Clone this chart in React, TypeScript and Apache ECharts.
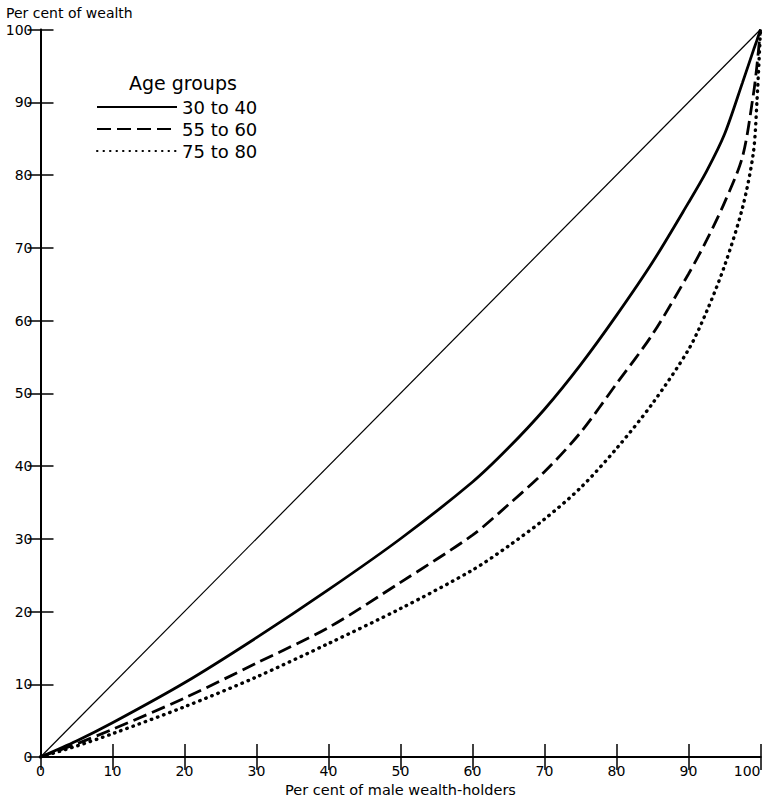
import React, { useEffect, useRef } from "react";
import * as echarts from "echarts";

// Percentage of male wealth-holders (x)
const xs = [0, 5, 10, 20, 30, 40, 50, 60, 65, 70, 75, 80, 85, 90, 92.5, 95, 97.5, 99, 99.5, 100];
// Cumulative percentage of wealth (y) for each age group
const age30to40 = [0, 2.2, 4.7, 10.2, 16.4, 23.0, 30.0, 37.8, 42.5, 47.8, 53.9, 60.7, 68.0, 76.2, 80.5, 85.6, 92.7, 97.1, 98.5, 100];
const age55to60 = [0, 1.8, 3.8, 8.1, 12.9, 17.8, 24.0, 30.5, 34.7, 39.2, 44.6, 51.3, 58.1, 66.4, 71.0, 76.2, 82.5, 91.0, 95.0, 100];
const age75to80 = [0, 1.5, 3.2, 6.9, 11.0, 15.6, 20.4, 25.7, 29.0, 32.7, 37.0, 42.4, 48.6, 56.0, 61.2, 67.5, 75.5, 83.0, 90.0, 100];
const equality = [[0, 0], [100, 100]];
const seriesNames = ["30 to 40", "55 to 60", "75 to 80"];

const pairs = (ys: number[]) => xs.map((x, i) => [x, ys[i]]);

const FONT = "DejaVu Sans";

export default function App() {
  const ref = useRef<HTMLDivElement>(null);
  useEffect(() => {
    document.body.style.margin = "0";
    if (!ref.current) return;
    const chart = echarts.init(ref.current, undefined, { renderer: "svg" });
    const axisCommon = {
      type: "value" as const,
      min: 0,
      max: 100,
      interval: 10,
      splitLine: { show: false },
      axisTick: { show: true, inside: true, length: 13, lineStyle: { color: "#000", width: 1.5 } },
    };
    const curve = {
      type: "line" as const,
      symbol: "none",
      smooth: 0.3,
      color: "#000",
    };
    chart.setOption({
      animation: false,
      backgroundColor: "#fff",
      textStyle: { fontFamily: FONT, color: "#000" },
      title: {
        text: "Per cent of wealth",
        left: 6,
        top: 6,
        padding: 0,
        textStyle: { fontSize: 14, fontWeight: "normal", color: "#000", fontFamily: FONT },
      },
      grid: { left: 40.5, top: 29.5, width: 720, height: 727.5, outerBoundsMode: "none" },
      legend: {
        data: seriesNames,
        orient: "vertical",
        left: 96,
        top: 98,
        padding: 0,
        itemWidth: 80,
        itemHeight: 14,
        itemGap: 4,
        selectedMode: false,
        itemStyle: { opacity: 0 },
        textStyle: { fontSize: 18, color: "#000", fontFamily: FONT },
      },
      graphic: [
        {
          type: "text",
          left: 129,
          top: 73,
          style: { text: "Age groups", fontSize: 19, fill: "#000", fontFamily: FONT },
        },
      ],
      xAxis: [
        {
          ...axisCommon,
          position: "bottom",
          axisLine: { show: true, lineStyle: { color: "#000", width: 2 } },
          axisLabel: {
            color: "#000",
            fontSize: 14,
            margin: 7,
            fontFamily: FONT,
            alignMaxLabel: "right",
          },
          name: "Per cent of male wealth-holders",
          nameLocation: "middle",
          nameGap: 20,
          nameTextStyle: { fontSize: 14.5, color: "#000", fontFamily: FONT },
        },
        {
          ...axisCommon,
          position: "top",
          axisLine: { show: true, lineStyle: { color: "#000", width: 2 } },
          axisLabel: { show: false },
        },
      ],
      yAxis: [
        {
          ...axisCommon,
          position: "left",
          axisLine: { show: true, lineStyle: { color: "#000", width: 2 } },
          axisLabel: { color: "#000", fontSize: 14, margin: 8, fontFamily: FONT },
        },
        {
          ...axisCommon,
          position: "right",
          axisLine: { show: true, lineStyle: { color: "#000", width: 1.5 } },
          axisLabel: { show: false },
        },
      ],
      series: [
        {
          name: "equality",
          type: "line",
          data: equality,
          symbol: "none",
          silent: true,
          lineStyle: { color: "#000", width: 1.2 },
        },
        {
          ...curve,
          name: seriesNames[0],
          data: pairs(age30to40),
          lineStyle: { color: "#000", width: 2.8 },
        },
        {
          ...curve,
          name: seriesNames[1],
          data: pairs(age55to60),
          lineStyle: { color: "#000", width: 2.8, type: [14, 6] },
        },
        {
          ...curve,
          name: seriesNames[2],
          data: pairs(age75to80),
          lineStyle: { color: "#000", width: 3.4, type: [0.5, 6], cap: "round" },
        },
      ],
    });
    return () => chart.dispose();
  }, []);
  return (
    <div
      ref={ref}
      style={{ position: "fixed", left: 0, top: 0, width: 770, height: 797 }}
    />
  );
}
